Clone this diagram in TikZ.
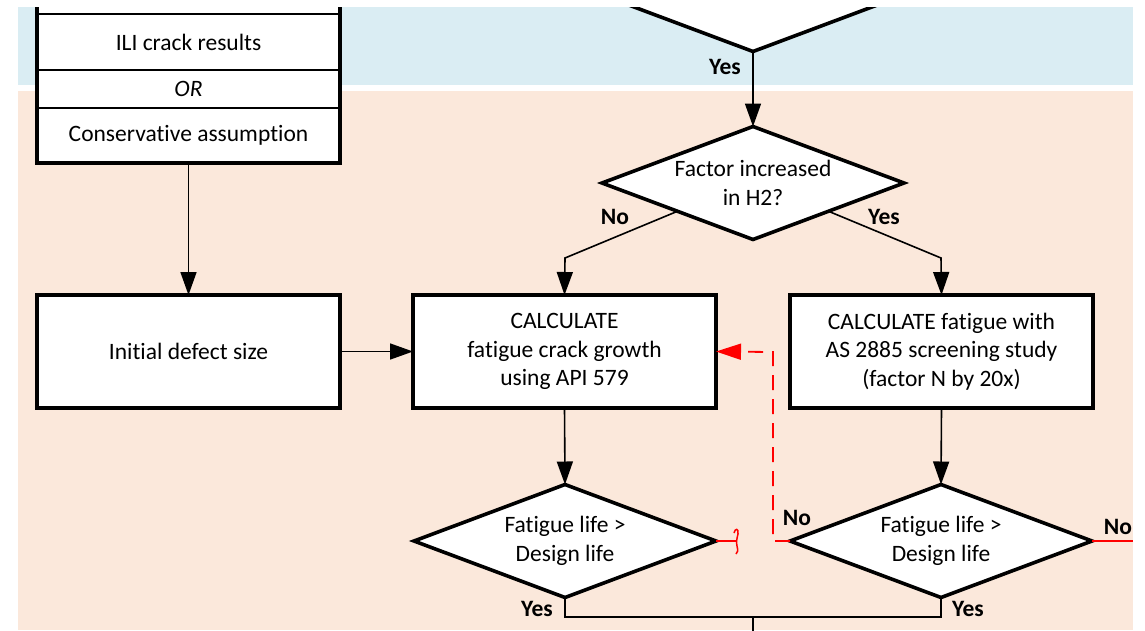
\documentclass[tikz,border=0pt]{standalone}
\usepackage{fontspec}
\setmainfont{Carlito}[Ligatures={NoCommon}]
\usetikzlibrary{shapes.geometric,arrows.meta,fit}
\definecolor{bandblue}{HTML}{DAEDF3}
\definecolor{bandpeach}{HTML}{FBE8DB}
\begin{document}
\begin{tikzpicture}[x=1pt,y=-1pt,
  every node/.style={font=\fontsize{23.5}{28.5}\selectfont, outer sep=0pt},
  procbox/.style={draw, line width=3.2pt, fill=white, minimum width=303pt, minimum height=113pt, align=center, inner sep=0pt},
  cell/.style={draw, line width=1.8pt, fill=white, minimum width=303pt, align=center, inner sep=0pt},
  decision/.style={diamond, draw, line width=3.6pt, fill=white, minimum width=302pt, minimum height=113pt, aspect=2.67, align=center, inner sep=0pt},
  flow/.style={line width=1.6pt},
  arrowflow/.style={flow, -{Triangle[length=23pt,width=16pt]}},
  redflow/.style={red, line width=1.8pt},
  answer/.style={font=\fontsize{23.5}{28.5}\selectfont\bfseries, inner sep=0pt},
]
\useasboundingbox (0,0) rectangle (1145,630);
\clip (0,7) rectangle (1145,630);

% swim-lane bands
\fill[bandblue] (18,7) rectangle (1133,85);
\fill[bandpeach] (18,91) rectangle (1133,630);

% input stack
\node[cell, minimum height=54pt] (above) at (188.5,-13) {};
\node[cell, minimum height=56pt] (ili) at (188.5,42) {ILI crack results};
\node[cell, minimum height=38pt] (or) at (188.5,89) {\itshape OR};
\node[cell, minimum height=55pt] (cons) at (188.5,135.5) {Conservative assumption};
\node[draw, line width=3.2pt, fit=(above)(cons), inner sep=0pt] (stack) {};

% process boxes
\node[procbox] (init) at (188.5,351.5) {Initial defect size};
\node[procbox] (calc) at (564.5,351.5) {CALCULATE\\fatigue crack growth\\using API 579};
\node[procbox] (screen) at (941.5,351.5) {CALCULATE fatigue with\\AS 2885 screening study\\(factor N by 20x)};

% decisions
\node[decision] (top) at (753,-5) {};
\node[decision] (fac) at (753,183) {Factor increased\\in H2?};
\node[decision] (ldec) at (565,541) {Fatigue life >\\Design life};
\node[decision] (rdec) at (941,541) {Fatigue life >\\Design life};

% main flow
\draw[arrowflow] (stack.south) -- (init.north);
\draw[arrowflow] (init.east) -- (calc.west);
\draw[arrowflow] (top.south) -- (fac.north);
\coordinate (nbend) at (565,258);
\coordinate (ybend) at (941,258);
\draw[arrowflow] (fac.south west) -- (nbend) -- (calc.north);
\draw[arrowflow] (fac.south east) -- (ybend) -- (screen.north);
\draw[arrowflow] (calc.south) -- (ldec.north);
\draw[arrowflow] (screen.south) -- (rdec.north);

% merge of the two "Yes" outcomes
\coordinate (merge) at (753,617);
\coordinate (exit) at (753,640);
\draw[flow] (ldec.south) |- (merge) -| (rdec.south);
\draw[flow] (merge) -- (exit);

% "No" outcomes
\coordinate (rcorner1) at (773,541);
\coordinate (rcorner2) at (773,352);
\draw[redflow, dash pattern=on 15pt off 9pt, -{Triangle[length=25pt,width=16pt]}]
  (rdec.west) -- (rcorner1) -- (rcorner2) -- (calc.east);
\coordinate (edge) at (1133,541);
\draw[redflow] (rdec.east) -- (edge);
\coordinate (hopstart) at (737,541);
\draw[redflow] (ldec.east) -- (hopstart);
\draw[redflow, line width=1.5pt] (734,533) .. controls (735,528) and (739,528) .. (738,534)
  .. controls (737,538) and (736,542) .. (737,546) .. controls (738,550) and (738,553) .. (736,554);

% branch labels
\node[answer] (yes0) at (725,67) {Yes};
\node[answer] (no1) at (615,217) {No};
\node[answer] (yes1) at (884,217) {Yes};
\node[answer] (no2) at (797,518) {No};
\node[answer] (no3) at (1118,527) {No};
\node[answer] (yes2) at (537,609) {Yes};
\node[answer] (yes3) at (968,609) {Yes};
\end{tikzpicture}
\end{document}
